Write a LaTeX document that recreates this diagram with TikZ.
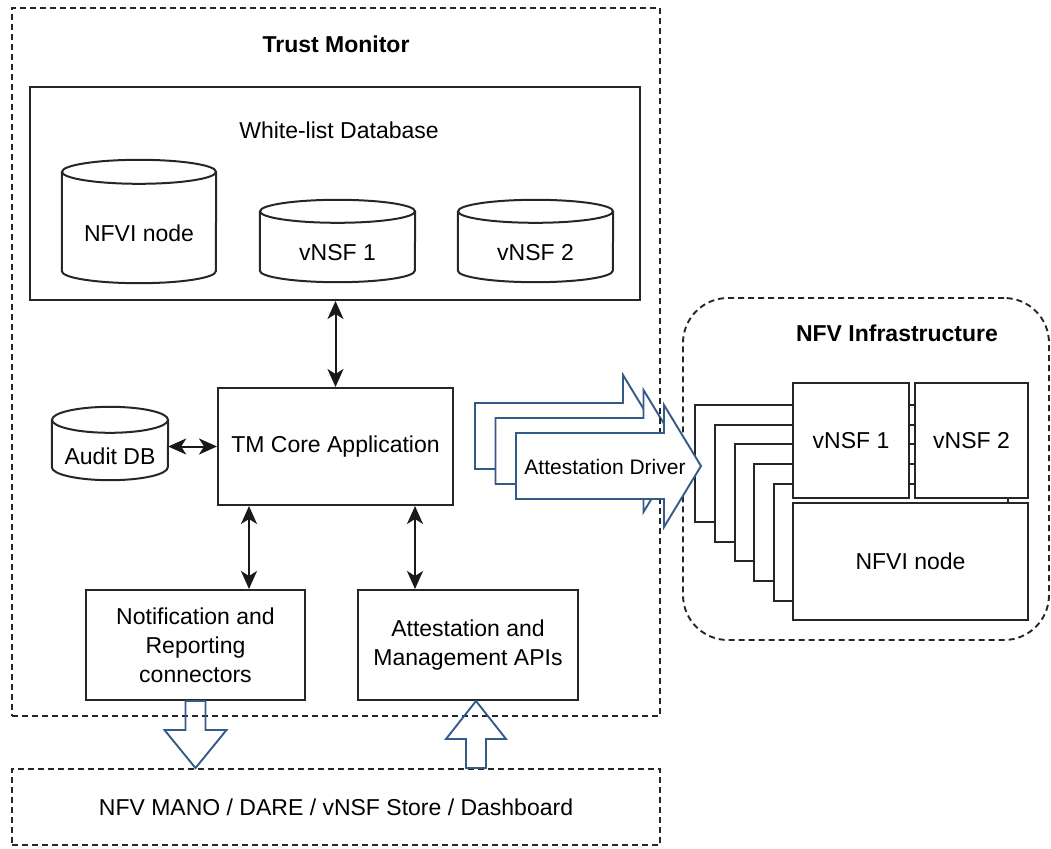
\documentclass[tikz,border=0pt]{standalone}
\usepackage{fontspec}
\setmainfont{Liberation Sans}
\usepackage{xcolor}
\usetikzlibrary{positioning,arrows.meta}
\definecolor{drvblue}{RGB}{52,90,138}

\begin{document}
\begin{tikzpicture}[
  x=1pt, y=-1pt,
  txt/.style   ={font=\fontsize{23}{29}\selectfont, inner sep=0pt, align=center},
  sz/.style 2 args={minimum width=#1pt, minimum height=#2pt},
  box/.style   ={txt, draw=black!85, line width=2pt},
  db/.style    ={txt},
  cont/.style  ={txt, draw=black!85, line width=1.9pt, dash pattern=on 6pt off 4pt},
  ttl/.style   ={txt, font=\fontsize{23}{29}\selectfont\bfseries},
  stack/.style ={draw=black!85, line width=2pt, fill=white},
  bi/.style    ={{Stealth[length=18pt,width=16pt,inset=5pt]}-{Stealth[length=18pt,width=16pt,inset=5pt]},
                 line width=2pt, draw=black!90},
  blk/.style   ={draw=drvblue, line width=1.9pt, line join=miter},
]
\useasboundingbox (0,0) rectangle (1051,848);
% ---------------- attestation driver (back copies) ----------------
\foreach \k in {2,1}
  \draw[blk, fill=white, shift={(-20.5*\k,-15*\k)}] (516,433) -- (664,433) -- (664,405) -- (701,466)
    -- (664,527) -- (664,499) -- (516,499) -- cycle;

% ---------------- containers ----------------
\node[cont, sz={648}{708}] (tm) at (336,362) {};
\node[ttl] (tmtitle) at (336,44) {Trust Monitor};
\node[cont, sz={648}{76}] (mano) at (336,807) {NFV MANO / DARE / vNSF Store / Dashboard};
\node[cont, rounded corners=45pt, sz={366}{342}] (nfv) at (866,469) {};
\node[ttl] (nfvtitle) at (897,333) {NFV Infrastructure};

% ---------------- white-list database ----------------
\node[box, sz={610}{213}] (wl) at (335,193.5) {};
\node[txt] (wltitle) at (339,130) {White-list Database};
\node[db, sz={154}{99}] (wlnfvi)  at (139,233.5) {NFVI node};
\node[db, sz={155}{59}] (wlvnsfa) at (337.5,252.5) {vNSF 1};
\node[db, sz={155}{59}] (wlvnsfb) at (535.5,252.5) {vNSF 2};

% ---------------- TM core and its parts ----------------
\node[db, sz={116}{47}] (audit) at (110,456.5) {Audit DB};
\node[box, sz={235}{117}] (core)  at (335.5,446.5) {TM Core Application};
\node[box, sz={219}{110}] (notif) at (195.5,645) {Notification and\\Reporting\\connectors};
\node[box, sz={220}{110}] (api)   at (468,645) {Attestation and\\Management APIs};

% cylinders drawn round the db nodes
\foreach \n/\rx/\ry in {wlnfvi/77/12, wlvnsfa/77.5/11.5, wlvnsfb/77.5/11.5, audit/58/13} {
  \draw[draw=black!85, line width=2pt] ([yshift=\ry pt]\n.north west) -- ([yshift=\ry pt]\n.south west)
    arc[start angle=180, end angle=360, x radius=\rx pt, y radius=\ry pt] -- ([yshift=\ry pt]\n.north east);
  \draw[draw=black!85, line width=2pt] ([yshift=\ry pt]\n.north) ellipse[x radius=\rx pt, y radius=\ry pt];
}

% ---------------- links ----------------
\draw[bi] (core.north |- wl.south) -- (core.north);
\draw[bi] (audit.east |- core.west) -- (core.west);
\draw[bi] ([xshift=32pt]core.south west) -- ([xshift=32pt]core.south west |- notif.north);
\draw[bi] ([xshift=-39pt]core.south east) -- ([xshift=-39pt]core.south east |- api.north);
% out to / in from the outside world
\draw[blk] (notif.south) ++(-10,0) -- ++(0,29) -- ++(-21,0) -- ++(31,38) -- ++(31,-38)
  -- ++(-21,0) -- ++(0,-29) -- cycle;
\draw[blk] (api.south) ++(8,0) -- ++(30,38) -- ++(-20,0) -- ++(0,29) -- ++(-20,0)
  -- ++(0,-29) -- ++(-20,0) -- cycle;

% ---------------- NFV infrastructure stack ----------------
\foreach \fx/\fy in {695/405, 715/425, 735/444, 754/464, 774/484}
  \draw[stack] (\fx,\fy) rectangle (1008,\fy+117);
\node[box, fill=white, sz={116}{115}] (vnsfa)    at (851,440.5) {vNSF 1};
\node[box, fill=white, sz={113}{115}] (vnsfb)    at (971.5,440.5) {vNSF 2};
\node[box, fill=white, sz={235}{117}] (nfvinode) at (910.5,561.5) {NFVI node};

% ---------------- attestation driver (front) ----------------
\draw[blk, fill=white] (516,433) -- (664,433) -- (664,405) -- (701,466)
  -- (664,527) -- (664,499) -- (516,499) -- cycle;
\node[txt, font=\fontsize{21}{25}\selectfont] (driver) at (605,467) {Attestation Driver};
\end{tikzpicture}
\end{document}
